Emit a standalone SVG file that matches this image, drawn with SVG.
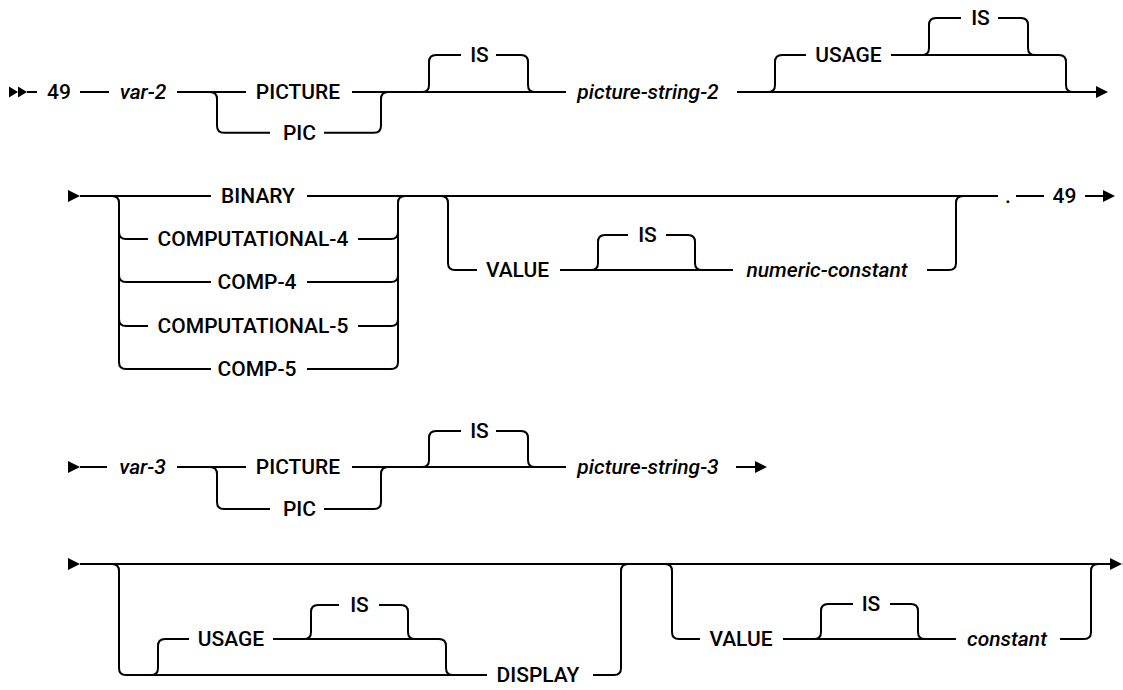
<svg xmlns="http://www.w3.org/2000/svg" width="1123" height="690" viewBox="0 0 1123 690">
<style>
  .ln { fill: none; stroke: #000; stroke-width: 2; }
  .ah { fill: #000; stroke: none; }
  text { font-family: Roboto, "Liberation Sans", sans-serif; font-size: 21px; font-weight: 500; fill: #000; text-anchor: middle; }
  .v { font-style: italic; }
</style>
<rect width="1123" height="690" fill="#fff"/>
<g id="connectors">
  <!-- Line 1 -->
  <polygon class="ah" points="9,86.5 18,92 9,97.5"/>
  <polygon class="ah" points="18,86.5 27,92 18,97.5"/>
  <path class="ln" d="M27,92 H37 M80,92 H109 M177,92 H246 M352,92 H566 M737,92 H1097"/>
  <path class="ln" d="M210,92 Q217,92 217,99 V125.7 Q217,132.7 224,132.7 H270 M324,132.7 H374 Q381,132.7 381,125.7 V99 Q381,92 388,92"/>
  <path class="ln" d="M422,92 Q429,92 429,85 V62 Q429,55 436,55 H461 M496,55 H521 Q528,55 528,62 V85 Q528,92 535,92"/>
  <path class="ln" d="M768,92 Q775,92 775,85 V62 Q775,55 782,55 H806 M891,55 H1059 Q1066,55 1066,62 V85 Q1066,92 1073,92"/>
  <path class="ln" d="M922,55 Q929,55 929,48 V25 Q929,18 936,18 H961 M998,18 H1021 Q1028,18 1028,25 V48 Q1028,55 1035,55"/>
  <polygon class="ah" points="1096,86 1108,92 1096,98"/>
  <!-- Line 2 -->
  <polygon class="ah" points="68,190 80,196 68,202"/>
  <path class="ln" d="M80,196 H211 M307,196 H998"/>
  <path class="ln" d="M112,196 Q119,196 119,203 V362 Q119,369 126,369 H211 M307,369 H391 Q398,369 398,362 V203 Q398,196 405,196"/>
  <path class="ln" d="M119,232 Q119,239 126,239 H148 M358,239 H391 Q398,239 398,232"/>
  <path class="ln" d="M119,275 Q119,282 126,282 H211 M307,282 H391 Q398,282 398,275"/>
  <path class="ln" d="M119,319 Q119,326 126,326 H148 M358,326 H391 Q398,326 398,319"/>
  <path class="ln" d="M441,196 Q448,196 448,203 V263 Q448,270 455,270 H477 M560,270 H733 M927,270 H949 Q956,270 956,263 V203 Q956,196 963,196"/>
  <path class="ln" d="M591,270 Q598,270 598,263 V242 Q598,235 605,235 H628 M666,235 H688 Q695,235 695,242 V263 Q695,270 702,270"/>
  <path class="ln" d="M1016,196 H1044 M1085,196 H1104"/>
  <polygon class="ah" points="1103,190 1115,196 1103,202"/>
  <!-- Line 3 -->
  <polygon class="ah" points="68,461 80,467 68,473"/>
  <path class="ln" d="M80,467 H107 M177,467 H246 M352,467 H566 M736,467 H756"/>
  <path class="ln" d="M210,467 Q217,467 217,474 V502 Q217,509 224,509 H270 M324,509 H374 Q381,509 381,502 V474 Q381,467 388,467"/>
  <path class="ln" d="M422,467 Q429,467 429,460 V438 Q429,431 436,431 H461 M496,431 H521 Q528,431 528,438 V460 Q528,467 535,467"/>
  <polygon class="ah" points="755,461 767,467 755,473"/>
  <!-- Line 4 -->
  <polygon class="ah" points="68,558 80,564 68,570"/>
  <path class="ln" d="M80,564 H1111"/>
  <path class="ln" d="M112,564 Q119,564 119,571 V668 Q119,675 126,675 H487 M593,675 H614 Q621,675 621,668 V571 Q621,564 628,564"/>
  <path class="ln" d="M151,675 Q158,675 158,668 V646 Q158,639 165,639 H189 M273,639 H439 Q446,639 446,646 V668 Q446,675 453,675"/>
  <path class="ln" d="M304,639 Q311,639 311,632 V612 Q311,605 318,605 H339 M379,605 H401 Q408,605 408,612 V632 Q408,639 415,639"/>
  <path class="ln" d="M665,564 Q672,564 672,571 V632 Q672,639 679,639 H700 M783,639 H956 M1060,639 H1084 Q1091,639 1091,632 V571 Q1091,564 1098,564"/>
  <path class="ln" d="M814,639 Q821,639 821,632 V611 Q821,604 828,604 H853 M890,604 H911 Q918,604 918,611 V632 Q918,639 925,639"/>
  <polygon class="ah" points="1110,558 1122,564 1110,570"/>
  <polygon class="ah" points="1134,558 1122,564 1134,570"/>
</g>
<g id="n-49a"><text x="59" y="99">49</text></g>
<g id="n-var2"><text class="v" x="143" y="99">var-2</text></g>
<g id="n-picture1"><text x="298" y="99">PICTURE</text></g>
<g id="n-pic1"><text x="299.5" y="139.7">PIC</text></g>
<g id="n-is1"><text x="479.5" y="62">IS</text></g>
<g id="n-pstr2"><text class="v" x="648" y="99">picture-string-2</text></g>
<g id="n-usage1"><text x="848.5" y="62">USAGE</text></g>
<g id="n-is2"><text x="980.5" y="25">IS</text></g>
<g id="n-binary"><text x="258" y="203">BINARY</text></g>
<g id="n-comp4l"><text x="253" y="246">COMPUTATIONAL-4</text></g>
<g id="n-comp4"><text x="257" y="289">COMP-4</text></g>
<g id="n-comp5l"><text x="253" y="333">COMPUTATIONAL-5</text></g>
<g id="n-comp5"><text x="257" y="376">COMP-5</text></g>
<g id="n-value1"><text x="517.5" y="277">VALUE</text></g>
<g id="n-is3"><text x="647.5" y="242">IS</text></g>
<g id="n-numconst"><text class="v" x="827" y="277">numeric-constant</text></g>
<g id="n-dot"><text x="1008" y="203">.</text></g>
<g id="n-49b"><text x="1064.5" y="203">49</text></g>
<g id="n-var3"><text class="v" x="142.5" y="474">var-3</text></g>
<g id="n-picture2"><text x="298" y="474">PICTURE</text></g>
<g id="n-pic2"><text x="299.5" y="516">PIC</text></g>
<g id="n-is4"><text x="479.5" y="438">IS</text></g>
<g id="n-pstr3"><text class="v" x="648" y="474">picture-string-3</text></g>
<g id="n-usage2"><text x="231" y="646">USAGE</text></g>
<g id="n-is5"><text x="359.5" y="612">IS</text></g>
<g id="n-display"><text x="538" y="682">DISPLAY</text></g>
<g id="n-value2"><text x="741" y="646">VALUE</text></g>
<g id="n-is6"><text x="871" y="611">IS</text></g>
<g id="n-const"><text class="v" x="1007" y="646">constant</text></g>
</svg>
